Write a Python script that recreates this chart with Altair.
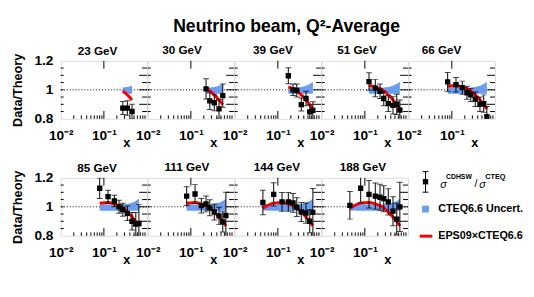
import altair as alt
import pandas as pd

FONT = "Liberation Sans"
BLUE = "#6a9cf0"
RED = "#ff0000"
W, H = 88.2, 59.3

energies = ["23 GeV", "30 GeV", "39 GeV", "51 GeV", "66 GeV",
            "85 GeV", "111 GeV", "144 GeV", "188 GeV"]

# theory curves at the x bins
x_bins = [0.045, 0.08, 0.125, 0.175, 0.225, 0.275, 0.35, 0.45, 0.55, 0.65]
eps09_ratio = [0.99, 1.025, 1.03, 1.02, 1.008, 0.993, 0.965, 0.93, 0.898, 0.868]
cteq_lo = [0.975, 0.972, 0.972, 0.972, 0.972, 0.972, 0.972, 0.972, 0.972, 0.973]
cteq_hi = [1.018, 1.018, 1.016, 1.014, 1.014, 1.016, 1.02, 1.028, 1.04, 1.056]

# data / theory points
x_23 = [0.275, 0.35, 0.45]
y_23 = [0.874, 0.874, 0.85]
e_23 = [0.045, 0.05, 0.05]

x_30 = [0.225, 0.275, 0.35, 0.45, 0.55]
y_30 = [1.006, 0.924, 0.911, 0.868, 0.96]
e_30 = [0.07, 0.06, 0.055, 0.065, 0.08]

x_39 = [0.175, 0.225, 0.275, 0.35, 0.45, 0.55, 0.65]
y_39 = [1.097, 1.0, 0.995, 0.898, 0.94, 0.848, 0.858]
e_39 = [0.055, 0.04, 0.045, 0.045, 0.05, 0.05, 0.06]

x_51 = [0.125, 0.175, 0.225, 0.275, 0.35, 0.45, 0.55, 0.65]
y_51 = [1.057, 1.012, 0.99, 0.94, 0.905, 0.893, 0.90, 0.86]
e_51 = [0.06, 0.06, 0.05, 0.05, 0.055, 0.06, 0.07, 0.07]

x_66 = [0.08, 0.125, 0.175, 0.225, 0.275, 0.35, 0.45, 0.55, 0.65]
y_66 = [1.055, 1.035, 1.015, 0.98, 0.965, 0.935, 0.90, 0.905, 0.815]
e_66 = [0.065, 0.05, 0.045, 0.045, 0.045, 0.05, 0.05, 0.06, 0.07]

x_85 = [0.08, 0.125, 0.175, 0.225, 0.275, 0.35, 0.45, 0.55, 0.65]
y_85 = [1.128, 1.07, 1.04, 1.0, 0.98, 0.955, 0.90, 0.88, 0.885]
e_85 = [0.07, 0.045, 0.04, 0.045, 0.045, 0.05, 0.06, 0.08, 0.13]

x_111 = [0.08, 0.125, 0.175, 0.225, 0.275, 0.35, 0.45, 0.55, 0.65]
y_111 = [1.074, 1.088, 1.008, 1.02, 0.993, 0.964, 0.937, 0.896, 0.94]
e_111 = [0.065, 0.065, 0.05, 0.055, 0.055, 0.055, 0.06, 0.07, 0.16]

x_144 = [0.045, 0.08, 0.125, 0.175, 0.225, 0.275, 0.35, 0.45, 0.55, 0.65]
y_144 = [1.03, 1.086, 1.034, 1.034, 1.027, 0.998, 0.964, 0.957, 0.90, 0.962]
e_144 = [0.085, 0.08, 0.065, 0.065, 0.065, 0.065, 0.065, 0.07, 0.08, 0.165]

x_188 = [0.045, 0.08, 0.125, 0.175, 0.225, 0.275, 0.35, 0.45, 0.55, 0.65]
y_188 = [1.01, 1.128, 1.086, 1.074, 1.066, 1.056, 1.034, 0.97, 0.915, 1.0]
e_188 = [0.095, 0.1, 0.095, 0.09, 0.09, 0.09, 0.09, 0.1, 0.11, 0.17]

panel_x = [x_23, x_30, x_39, x_51, x_66, x_85, x_111, x_144, x_188]
panel_y = [y_23, y_30, y_39, y_51, y_66, y_85, y_111, y_144, y_188]
panel_e = [e_23, e_30, e_39, e_51, e_66, e_85, e_111, e_144, e_188]

# axis tick positions
x_label_ticks = [0.01, 0.1]
x_minor_ticks = [0.02, 0.03, 0.04, 0.05, 0.06, 0.07, 0.08, 0.09,
                 0.2, 0.3, 0.4, 0.5, 0.6, 0.7, 0.8, 0.9]
x_major_ticks = [0.1]
y_label_ticks = [0.8, 1.0, 1.2]
y_major_ticks = [0.9, 1.0, 1.1]
y_minor_ticks = [0.85, 0.95, 1.05, 1.15]

legend_labels = ["CTEQ6.6 Uncert.", "EPS09\u00d7CTEQ6.6"]

# horizontal shift of each panel title from the panel centre
title_dx = [-6.5, -9, -5, -8, -10.5, -7, -4, -1, -2]

xscale = alt.Scale(type="log", domain=[0.01, 1], nice=False)
yscale = alt.Scale(domain=[0.8, 1.2], nice=False, zero=False)
ONE = pd.DataFrame({"k": [0]})


def legend_chart():
    L = 17.2  # marker centre, relative to legend cell
    T = 30.2  # text start
    layers = []
    layers.append(alt.Chart(ONE).mark_rule(color="black", strokeWidth=1).encode(
        x=alt.value(L), y=alt.value(-6.3), y2=alt.value(14.7)))
    for yy in (-6.3, 14.7):
        layers.append(alt.Chart(ONE).mark_rule(color="black", strokeWidth=1).encode(
            x=alt.value(L - 3), x2=alt.value(L + 3), y=alt.value(yy)))
    layers.append(alt.Chart(ONE).mark_square(color="black", opacity=1, size=30).encode(
        x=alt.value(L), y=alt.value(4)))
    for txt, xx, yy, fs, fw in [("\u03c3", T + 2, 7.0, 11, "normal"),
                                ("CDHSW", T + 8, -1.0, 7, "bold"),
                                ("/", T + 37, 6.0, 11, "normal"),
                                ("\u03c3", T + 42, 7.0, 11, "normal"),
                                ("CTEQ", T + 48, -1.0, 7.5, "bold")]:
        layers.append(alt.Chart(ONE).mark_text(
            text=txt, align="left", baseline="middle", fontSize=fs, fontWeight=fw,
            font=FONT, fontStyle="italic" if txt == "\u03c3" else "normal").encode(
            x=alt.value(xx), y=alt.value(yy)))
    layers.append(alt.Chart(ONE).mark_square(color=BLUE, opacity=1, size=49).encode(
        x=alt.value(L), y=alt.value(32)))
    layers.append(alt.Chart(pd.DataFrame({"lab": [legend_labels[0]]})).mark_text(
        align="left", baseline="middle", fontSize=11, fontWeight="bold", font=FONT).encode(
        x=alt.value(T), y=alt.value(32), text="lab:N"))
    layers.append(alt.Chart(ONE).mark_rule(color=RED, strokeWidth=3).encode(
        x=alt.value(L - 6), x2=alt.value(L + 7), y=alt.value(59.7)))
    layers.append(alt.Chart(pd.DataFrame({"lab": [legend_labels[1]]})).mark_text(
        align="left", baseline="middle", fontSize=11, fontWeight="bold", font=FONT).encode(
        x=alt.value(T), y=alt.value(59.7), text="lab:N"))
    return alt.layer(*layers).properties(
        width=W, height=H, view=alt.ViewBackground(strokeOpacity=0))


def panel(i):
    xs, ys, es = panel_x[i], panel_y[i], panel_e[i]
    pts = pd.DataFrame({"x": xs, "y": ys,
                        "lo": [a - b for a, b in zip(ys, es)],
                        "hi": [a + b for a, b in zip(ys, es)]})
    th = pd.DataFrame({"x": x_bins, "eps": eps09_ratio, "lo": cteq_lo, "hi": cteq_hi})
    th = th[(th.x >= min(xs) - 1e-9) & (th.x <= max(xs) + 1e-9)]
    first_col = i in (0, 5)

    xaxis = alt.Axis(values=x_label_ticks,
                     labelExpr="datum.value < 0.05 ? '10\u207b\u00b2' : '10\u207b\u00b9'",
                     ticks=False, domain=False, grid=False, labelFontSize=14,
                     labelFontWeight="bold", labelFont=FONT, labelPadding=10,
                     labelFlush=False, labelOverlap=False, labelColor="black",
                     title="x", titleFontSize=13, titleFontWeight="bold", titleFont=FONT,
                     titleX=67, titleY=28, titleBaseline="alphabetic", titleAlign="center",
                     titleColor="black")
    if first_col:
        yaxis = alt.Axis(values=y_label_ticks, format=".1~f", ticks=False, domain=False,
                         grid=False, labelFontSize=14, labelFontWeight="bold", labelFont=FONT,
                         labelPadding=8, labelColor="black", title="Data/Theory",
                         titleFontSize=13, titleFontWeight="bold", titleFont=FONT,
                         titlePadding=10, titleColor="black")
    else:
        yaxis = None

    def X(field):
        return alt.X(field, scale=xscale, axis=xaxis)

    def Y(field):
        return alt.Y(field, scale=yscale, axis=yaxis)

    dotted = alt.Chart(ONE).mark_rule(color="black", strokeDash=[1, 2], strokeWidth=1).encode(
        y=alt.Y(datum=1.0, scale=yscale, axis=yaxis))
    band = alt.Chart(th).mark_area(color=BLUE, opacity=1, clip=True).encode(
        x=X("x:Q"), y=Y("lo:Q"), y2="hi:Q")
    red = alt.Chart(th).mark_line(color=RED, strokeWidth=3, interpolate="monotone",
                                  clip=True).encode(x=X("x:Q"), y=Y("eps:Q"))
    bars = alt.Chart(pts).mark_rule(color="black", strokeWidth=1, clip=True).encode(
        x=X("x:Q"), y=Y("lo:Q"), y2="hi:Q")
    cap_lo = alt.Chart(pts).mark_tick(color="black", orient="horizontal", size=6,
                                      thickness=1, clip=True).encode(x=X("x:Q"), y=Y("lo:Q"))
    cap_hi = alt.Chart(pts).mark_tick(color="black", orient="horizontal", size=6,
                                      thickness=1, clip=True).encode(x=X("x:Q"), y=Y("hi:Q"))
    dots = alt.Chart(pts).mark_square(color="black", opacity=1, size=30, clip=True).encode(
        x=X("x:Q"), y=Y("y:Q"))

    tk_minor = alt.Chart(pd.DataFrame({"t": x_minor_ticks})).mark_rule(
        color="black", strokeWidth=1).encode(x=X("t:Q"), y=alt.value(H), y2=alt.value(H - 3.5))
    tk_major_b = alt.Chart(pd.DataFrame({"t": x_major_ticks})).mark_rule(
        color="black", strokeWidth=1).encode(x=X("t:Q"), y=alt.value(H), y2=alt.value(H - 8))
    tk_major_t = alt.Chart(pd.DataFrame({"t": x_major_ticks})).mark_rule(
        color="black", strokeWidth=1).encode(x=X("t:Q"), y=alt.value(0), y2=alt.value(8))
    ty_major = alt.Chart(pd.DataFrame({"v": y_major_ticks})).mark_rule(
        color="black", strokeWidth=1).encode(y=Y("v:Q"), x=alt.value(W), x2=alt.value(W - 8))
    ty_minor = alt.Chart(pd.DataFrame({"v": y_minor_ticks})).mark_rule(
        color="black", strokeWidth=1).encode(y=Y("v:Q"), x=alt.value(W), x2=alt.value(W - 5))
    ty_left = alt.Chart(pd.DataFrame({"v": y_major_ticks + y_minor_ticks})).mark_rule(
        color="black", strokeWidth=1).encode(y=Y("v:Q"), x=alt.value(0), x2=alt.value(3))

    layers = [dotted, band, red, bars, cap_lo, cap_hi, dots,
              tk_minor, tk_major_b, tk_major_t, ty_major, ty_minor, ty_left]
    return alt.layer(*layers).properties(
        width=W, height=H,
        title=alt.TitleParams(energies[i], fontSize=12, fontWeight="bold", font=FONT,
                              frame="group", anchor="middle", dx=title_dx[i],
                              dy=8 if first_col else 0, offset=3, color="black"))


cells = [panel(i) for i in range(9)] + [legend_chart()]

chart = alt.concat(
    *cells, columns=5, spacing=alt.RowColnumber(row=59.7, column=0), bounds="flush",
    title=alt.TitleParams("Neutrino beam, Q\u00b2-Average", fontSize=18, fontWeight="bold",
                          font=FONT, anchor="start", frame="group", dx=115, offset=8,
                          color="black"),
).properties(
    padding={"left": 3, "top": 8, "right": 2, "bottom": 2}
).configure_view(stroke="black", strokeWidth=1).configure(background="white")

chart.save("out.html", embed_options={"renderer": "svg", "actions": False})
